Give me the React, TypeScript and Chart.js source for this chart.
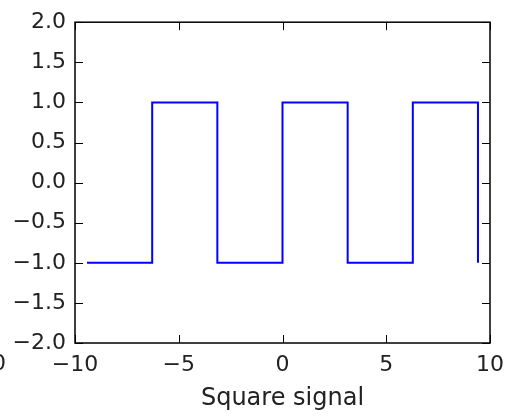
import React, { useEffect, useRef } from "react";
import { Chart, registerables } from "chart.js";

Chart.register(...registerables);

// Square signal: sign(sin(x)) sampled at the jumps (stepped 'before')
const stepX = [-9.42, -6.28, -3.14, 0, 3.14, 6.28, 9.42];
const stepY = [-1, 1, -1, 1, -1, 1, -1];
const xTicks = [-10, -5, 0, 5, 10];
const yTicks = [-2.0, -1.5, -1.0, -0.5, 0.0, 0.5, 1.0, 1.5, 2.0];
const xTitle = "Square signal";

const FONT = "DejaVu Sans";
const FS = 22;

const fmt = (v: number, d: number) => {
  const s = Math.abs(v).toFixed(d);
  return (v < 0 ? "\u2212" : "") + s;
};

const framePlugin = {
  id: "frame",
  afterDraw(chart: any) {
    const { ctx, chartArea } = chart;
    const { left, right, top, bottom } = chartArea;
    const xs = chart.scales.x;
    const ys = chart.scales.y;
    ctx.save();
    ctx.strokeStyle = "#000";
    ctx.lineWidth = 1.5;
    ctx.strokeRect(left, top, right - left, bottom - top);
    ctx.lineWidth = 1;
    const L = 8;
    ctx.beginPath();
    for (const v of xTicks) {
      const px = Math.round(xs.getPixelForValue(v)) + 0.5;
      ctx.moveTo(px, bottom);
      ctx.lineTo(px, bottom - L);
      ctx.moveTo(px, top);
      ctx.lineTo(px, top + L);
    }
    for (const v of yTicks) {
      const py = Math.round(ys.getPixelForValue(v)) + 0.5;
      ctx.moveTo(left, py);
      ctx.lineTo(left + L, py);
      ctx.moveTo(right, py);
      ctx.lineTo(right - L, py);
    }
    ctx.stroke();
    // clipped label from neighbouring panel at far left
    ctx.fillStyle = "#222";
    ctx.font = `${FS}px "${FONT}"`;
    ctx.textAlign = "right";
    ctx.textBaseline = "middle";
    ctx.fillText("0", 6, bottom + 21);
    ctx.restore();
  },
};

export default function App() {
  const ref = useRef<HTMLCanvasElement>(null);
  useEffect(() => {
    if (!ref.current) return;
    const data = stepX.map((x, i) => ({ x, y: stepY[i] }));
    const chart = new Chart(ref.current, {
      type: "line",
      data: {
        datasets: [
          {
            data,
            stepped: "before",
            borderColor: "#0000ff",
            borderWidth: 2,
            pointRadius: 0,
            fill: false,
          },
        ],
      },
      options: {
        responsive: false,
        animation: false,
        events: [],
        layout: { padding: { top: 22, right: 25, left: 0, bottom: 0 } },
        plugins: { legend: { display: false }, tooltip: { enabled: false } },
        scales: {
          x: {
            type: "linear",
            min: -10,
            max: 10,
            grid: { display: false, drawTicks: false },
            border: { display: false },
            afterFit: (s: any) => {
              s.height = 76;
            },
            afterBuildTicks: (s: any) => {
              s.ticks = xTicks.map((v) => ({ value: v }));
            },
            ticks: {
              color: "#222",
              padding: 9,
              maxRotation: 0,
              autoSkip: false,
              font: { family: FONT, size: FS },
              callback: (v: any) => fmt(Number(v), 0),
            },
            title: {
              display: true,
              text: xTitle,
              color: "#222",
              font: { family: FONT, size: 24 },
              padding: { top: 0, bottom: 6 },
            },
          },
          y: {
            type: "linear",
            min: -2,
            max: 2,
            grid: { display: false, drawTicks: false },
            border: { display: false },
            afterFit: (s: any) => {
              s.width = 75;
            },
            afterBuildTicks: (s: any) => {
              s.ticks = yTicks.map((v) => ({ value: v }));
            },
            ticks: {
              color: "#222",
              padding: 9,
              autoSkip: false,
              font: { family: FONT, size: FS },
              callback: (v: any) => fmt(Number(v), 1),
            },
          },
        },
      },
      plugins: [framePlugin],
    });
    return () => chart.destroy();
  }, []);
  return (
    <div style={{ position: "fixed", left: 0, top: 0, width: 515, height: 419, background: "#fff" }}>
      <canvas ref={ref} width={515} height={419} style={{ display: "block" }} />
    </div>
  );
}
